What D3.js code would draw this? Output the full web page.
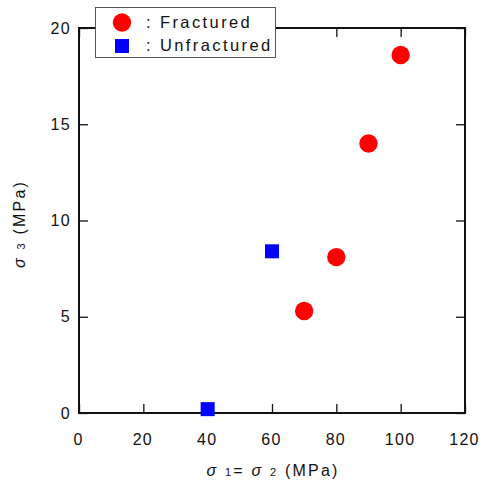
<!DOCTYPE html>
<html lang="en">
<head>
  <meta charset="UTF-8" />
  <title>Fractured vs Unfractured</title>
  <script src="https://d3js.org/d3.v7.min.js"></script>
  <style>
    body { margin: 0; background: #fff; }
    text { font-family: "Liberation Sans", Arial, sans-serif; fill: #111; }
  </style>
</head>
<body>
  <div id="chart"></div>

  <script>
    // sigma1 = sigma2 (MPa) and sigma3 (MPa)
    const fracturedX = [70, 80, 90, 100];
    const fracturedY = [5.3, 8.1, 14.0, 18.6];
    const unfracturedX = [40, 60];
    const unfracturedY = [0.2, 8.4];
    const xTicks = [0, 20, 40, 60, 80, 100, 120];
    const yTicks = [0, 5, 10, 15, 20];

    const width = 480, height = 484;
    const plotLeft = 79, plotRight = 465, plotTop = 28, plotBottom = 413;

    const svg = d3.select("#chart")
      .append("svg")
      .attr("width", width)
      .attr("height", height);

    const x = d3.scaleLinear().domain([0, 120]).range([plotLeft, plotRight]);
    const y = d3.scaleLinear().domain([0, 20]).range([plotBottom, plotTop]);

    // axes: ticks point inward, labels only on bottom and left
    const xb = svg.append("g")
      .attr("transform", `translate(0,${plotBottom})`)
      .call(d3.axisBottom(x).tickValues(xTicks).tickSizeInner(-9).tickSizeOuter(0).tickPadding(21));
    const yl = svg.append("g")
      .attr("transform", `translate(${plotLeft},0)`)
      .call(d3.axisLeft(y).tickValues(yTicks).tickSizeInner(-9).tickSizeOuter(0).tickPadding(8));
    const xt = svg.append("g")
      .attr("transform", `translate(0,${plotTop})`)
      .call(d3.axisTop(x).tickValues(xTicks).tickSizeInner(-9).tickSizeOuter(0).tickFormat(""));
    const yr = svg.append("g")
      .attr("transform", `translate(${plotRight},0)`)
      .call(d3.axisRight(y).tickValues(yTicks).tickSizeInner(-9).tickSizeOuter(0).tickFormat(""));

    [xb, yl, xt, yr].forEach(g => {
      g.select(".domain").remove();
      g.selectAll(".tick line").attr("stroke", "#111").attr("stroke-width", 1.3);
      g.selectAll(".tick text")
        .style("font-size", "16px")
        .style("letter-spacing", "1.3px")
        .attr("fill", "#111");
    });
    xb.selectAll(".tick text").attr("dx", "-1px");

    // frame
    svg.append("rect")
      .attr("x", plotLeft)
      .attr("y", plotTop)
      .attr("width", plotRight - plotLeft)
      .attr("height", plotBottom - plotTop)
      .attr("fill", "none")
      .attr("stroke", "#111")
      .attr("stroke-width", 2);

    // points
    svg.selectAll("circle.frac")
      .data(fracturedX.map((d, i) => [d, fracturedY[i]]))
      .enter()
      .append("circle")
      .attr("class", "frac")
      .attr("cx", d => x(d[0]))
      .attr("cy", d => y(d[1]))
      .attr("r", 9.2)
      .attr("fill", "#ff0000");

    const sq = 14;
    svg.selectAll("rect.unfrac")
      .data(unfracturedX.map((d, i) => [d, unfracturedY[i]]))
      .enter()
      .append("rect")
      .attr("class", "unfrac")
      .attr("x", d => x(d[0]) - sq / 2)
      .attr("y", d => y(d[1]) - sq / 2)
      .attr("width", sq)
      .attr("height", sq)
      .attr("fill", "#0000ff");

    // legend
    const lg = svg.append("g");
    lg.append("rect")
      .attr("x", 95.5).attr("y", 7.5)
      .attr("width", 180).attr("height", 50)
      .attr("fill", "#fff")
      .attr("stroke", "#555")
      .attr("stroke-width", 1);
    lg.append("circle")
      .attr("cx", 122).attr("cy", 22.5).attr("r", 9.2)
      .attr("fill", "#ff0000");
    lg.append("rect")
      .attr("x", 115).attr("y", 39).attr("width", 14).attr("height", 14)
      .attr("fill", "#0000ff");
    lg.append("text")
      .attr("x", 146).attr("y", 28)
      .style("font-size", "16.5px").style("letter-spacing", "2.4px")
      .text(": Fractured");
    lg.append("text")
      .attr("x", 146).attr("y", 51)
      .style("font-size", "16.5px").style("letter-spacing", "2.4px")
      .text(": Unfractured");

    // axis titles
    const xTitle = svg.append("text")
      .attr("x", 273).attr("y", 476)
      .attr("text-anchor", "middle")
      .style("font-size", "16px").style("letter-spacing", "2.2px");
    xTitle.append("tspan").style("font-style", "italic").text("σ ");
    xTitle.append("tspan").style("font-size", "11px").text("1");
    xTitle.append("tspan").text("= ");
    xTitle.append("tspan").style("font-style", "italic").text("σ ");
    xTitle.append("tspan").style("font-size", "11px").text("2");
    xTitle.append("tspan").text(" (MPa)");

    const yTitle = svg.append("text")
      .attr("transform", "translate(25,224) rotate(-90)")
      .attr("text-anchor", "middle")
      .style("font-size", "16px").style("letter-spacing", "2.2px");
    yTitle.append("tspan").style("font-style", "italic").text("σ ");
    yTitle.append("tspan").style("font-size", "11px").text("3");
    yTitle.append("tspan").text(" (MPa)");
  </script>
</body>
</html>
